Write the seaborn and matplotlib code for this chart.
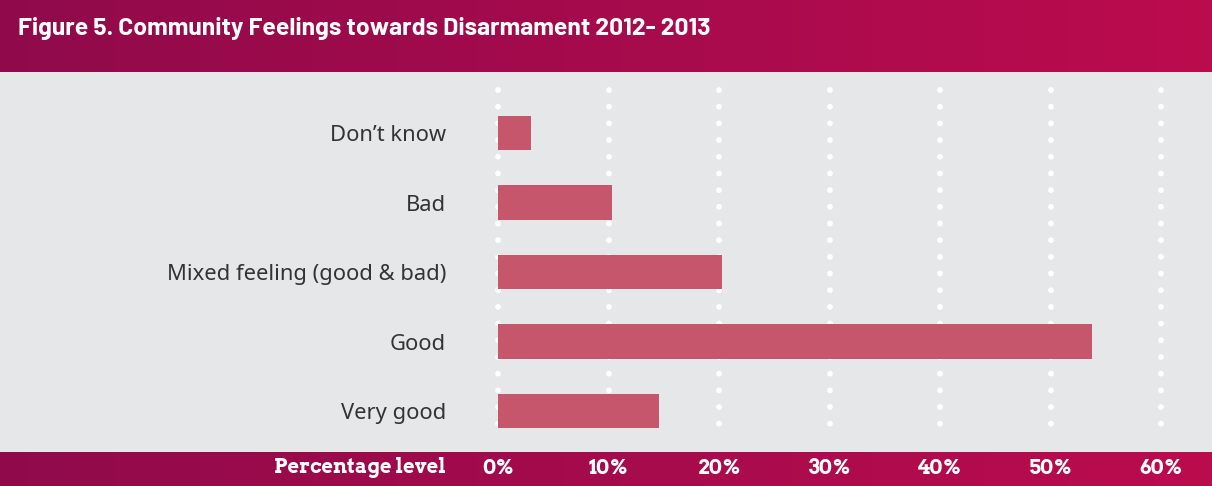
import numpy as np
import pandas as pd
import matplotlib
matplotlib.use("Agg")
import matplotlib.pyplot as plt
import matplotlib.transforms as mtransforms
from matplotlib.colors import LinearSegmentedColormap
import seaborn as sns

# Survey responses (percent of respondents)
categories = ["Don\u2019t know", "Bad", "Mixed feeling (good & bad)", "Good", "Very good"]
percentages = [3.0, 10.3, 20.3, 53.8, 14.6]
tick_values = [0, 10, 20, 30, 40, 50, 60]
tick_labels = ["0%", "10%", "20%", "30%", "40%", "50%", "60%"]
title = "Figure 5. Community Feelings towards Disarmament 2012- 2013"
axis_label = "Percentage level"

df = pd.DataFrame({"category": categories, "pct": percentages})

sns.set_theme(style="white")
label_font = ["Noto Sans", "DejaVu Sans"]
title_font = ["Barlow", "Barlow Semi Condensed", "DejaVu Sans"]
slab_font = ["Arvo", "Zilla Slab", "DejaVu Serif"]
plt.rcParams["font.family"] = label_font

W, H = 1212, 486
fig = plt.figure(figsize=(W / 100, H / 100), dpi=100)
fig.patch.set_facecolor("#e6e7e9")

band_cmap = LinearSegmentedColormap.from_list("band", ["#900a4b", "#bb0c4e"])
grad = np.linspace(0, 1, 256).reshape(1, -1)

def band(y0, y1):
    bax = fig.add_axes([0, 1 - y1 / H, 1, (y1 - y0) / H])
    bax.imshow(grad, aspect="auto", cmap=band_cmap, extent=[0, 1, 0, 1])
    bax.set_axis_off()
    return bax

band(0, 72)
band(452, H)

# Plot area: zero line at x=498 px, 10% per 110.5 px
left_px = 498
px_per_unit = 11.05
ax = fig.add_axes([left_px / W, 1 - 452 / H, (W - left_px) / W, 380 / H])
ax.set_facecolor("none")

sns.barplot(data=df, x="pct", y="category", order=categories, color="#c6566b",
            width=0.49, saturation=1, linewidth=0, edgecolor="none", ax=ax, zorder=3)

ax.set_xlim(0, (W - left_px) / px_per_unit)
ax.set_ylim(4.59, -0.878)

# Dotted white gridlines
for v in tick_values:
    ax.plot([v, v], [-0.62, 4.30], color="white", lw=4.2,
            linestyle=(0, (0.01, 2.85)), dash_capstyle="round", zorder=1,
            clip_on=False)

ax.set_xticks([])
ax.tick_params(axis="y", length=0, pad=37.5, labelsize=15.8, labelcolor="#333333")
for lbl in ax.get_yticklabels():
    lbl.set_fontfamily(label_font)
    lbl.set_fontweight("normal")
ax.set_xlabel("")
ax.set_ylabel("")
for s in ax.spines.values():
    s.set_visible(False)

# Header title
fig.text(18 / W, 1 - 29 / H, title, color="white", fontsize=17.8, fontweight="bold",
         family=title_font, ha="left", va="center")

# Axis labels in the bottom band
trans = mtransforms.blended_transform_factory(ax.transData, fig.transFigure)
ty = 1 - 468 / H
for v, t in zip(tick_values, tick_labels):
    fig.text(v, ty, t, transform=trans, ha="center", va="center", color="white",
             fontsize=14.6, fontweight="bold", family=slab_font)
fig.text(446 / W, ty, axis_label, ha="right", va="center", color="white",
         fontsize=14.3, fontweight="bold", family=slab_font)

fig.savefig("out.png", dpi=100, facecolor=fig.get_facecolor())
